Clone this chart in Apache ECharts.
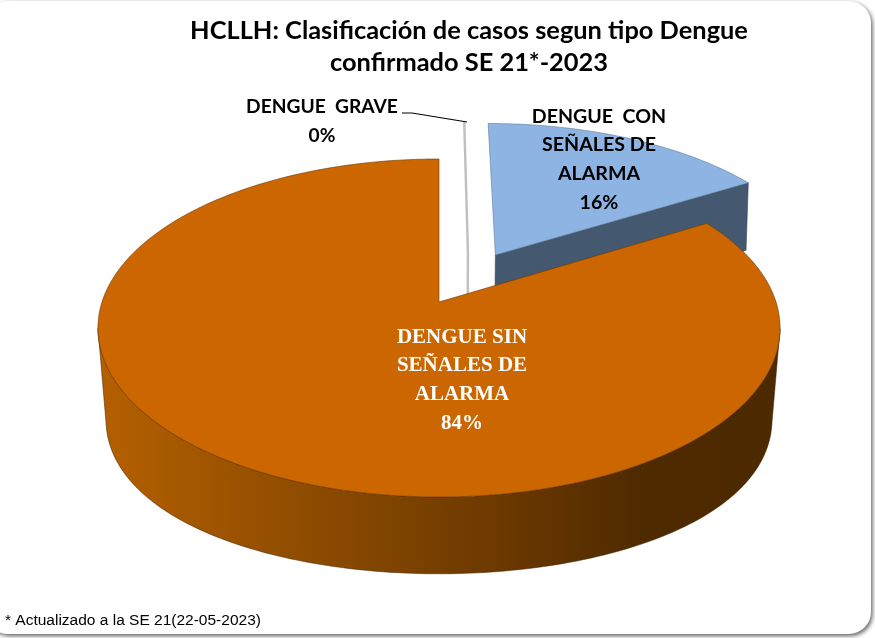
<!DOCTYPE html>
<html><head><meta charset="utf-8">
<style>html,body{margin:0;padding:0;background:#fff}#c{width:875px;height:638px}</style>
<script src="https://cdn.jsdelivr.net/npm/echarts@6/dist/echarts.min.js"></script>
</head><body><div id="c"></div>
<script>
// --- data ---
const titleLines = ['HCLLH: Clasificación de casos segun tipo Dengue', 'confirmado SE 21*-2023'];
const footnote = '* Actualizado a la SE 21(22-05-2023)';
const categories = ['DENGUE GRAVE', 'DENGUE CON SEÑALES DE ALARMA', 'DENGUE SIN SEÑALES DE ALARMA'];
const values = [0, 16.4, 83.6];
const percentLabels = ['0%', '16%', '84%'];

// --- drawing style ---
const topColors = ['#BFBFBF', '#8EB4E3', '#CC6600'];
const explodeU = [0.09, 0.175, 0];
const explodeV = [0.31, 0.298, 0];
const P = {x0: 439, y0: 302, A: 337, B: 165, k: 0.1538, depth: 65, bulge: 28, shrink: 0.021};

function project(u, v) {
  const s = 1 / (1 + P.k * v);
  return [P.x0 + P.A * u * s, P.y0 - P.B * v * s, s, v];
}
function lower(p) {
  const extra = P.bulge * Math.max(0, 1 - p[3] * p[3]);
  return [P.x0 + (p[0] - P.x0) * (1 - P.shrink * (1 - 0.8 * p[3])), p[1] + P.depth * p[2] + extra];
}
function rim(i, deg) {
  const t = deg * Math.PI / 180;
  return project(explodeU[i] + Math.sin(t), explodeV[i] + Math.cos(t));
}
const total = values.reduce((a, b) => a + b, 0);
const spans = [];
values.reduce((acc, v, i) => { spans[i] = [acc, acc + v / total * 360]; return acc + v / total * 360; }, 0);

function renderSlice(params) {
  const i = params.dataIndex;
  const [a0, a1] = spans[i];
  const apex = project(explodeU[i], explodeV[i]);
  const children = [];
  if (a1 - a0 < 0.01) {
    const e = rim(i, a0);
    children.push({type: 'polyline', shape: {points: [e.slice(0, 2), apex.slice(0, 2), lower(apex)]},
      style: {stroke: topColors[i], lineWidth: 2.4, fill: null}});
    return {type: 'group', children};
  }
  const arc = [];
  for (let d = a0; d < a1; d += 1) arc.push(rim(i, d));
  arc.push(rim(i, a1));
  if (a1 - a0 < 180) {
    const e = rim(i, a1);
    children.push({type: 'polygon',
      shape: {points: [apex.slice(0, 2), e.slice(0, 2), lower(e), lower(apex)]},
      style: {fill: '#44586F', stroke: '#39475A', lineWidth: 0.6}});
  } else {
    const front = arc.filter(p => p[3] <= -P.k);
    const pts = front.map(p => p.slice(0, 2)).concat(front.slice().reverse().map(lower));
    children.push({type: 'polygon', shape: {points: pts},
      style: {
        fill: new echarts.graphic.LinearGradient(0, 0, 1, 0, [
          {offset: 0, color: '#B56000'},
          {offset: 0.3, color: '#8F4C00'},
          {offset: 0.6, color: '#6A3800'},
          {offset: 0.8, color: '#4F2A00'},
          {offset: 1, color: '#4D2900'}
        ]),
        stroke: '#3A2000', lineWidth: 0.5
      }});
  }
  children.push({type: 'polygon',
    shape: {points: [apex.slice(0, 2)].concat(arc.map(p => p.slice(0, 2)))},
    style: {fill: topColors[i], stroke: a1 - a0 < 180 ? '#5F7896' : '#6A3800', lineWidth: 0.6}});
  return {type: 'group', children};
}

const calibri = 'Lato, "Open Sans", sans-serif';
function label(lines, x, y, font, size, color, lh) {
  return {type: 'text', z: 20, x, y,
    style: {text: lines.join('\n'), font: 'bold ' + size + 'px ' + font, fill: color,
      textAlign: 'center', textVerticalAlign: 'top', lineHeight: lh}};
}
const splitConAlarma = ['DENGUE  CON', 'SEÑALES DE', 'ALARMA'];
const splitSinAlarma = ['DENGUE SIN', 'SEÑALES DE', 'ALARMA'];
const splitGrave = ['DENGUE  GRAVE'];

const chart = echarts.init(document.getElementById('c'), null, {renderer: 'canvas'});
chart.setOption({
  animation: false,
  backgroundColor: '#ffffff',
  title: {
    text: titleLines.join('\n'), left: 464, top: 10, textAlign: 'center',
    textStyle: {fontFamily: calibri, fontWeight: 'bold', fontSize: 25.4, lineHeight: 32, color: '#000'}
  },
  graphic: [
    {type: 'rect', z: -10, shape: {x: -14, y: 1, width: 885, height: 633, r: 22},
      style: {fill: '#fff', shadowColor: 'rgba(80,80,80,0.9)', shadowBlur: 4, shadowOffsetX: 1.5, shadowOffsetY: 2}},
    {type: 'polyline', z: 19, shape: {points: [[402, 113], [412, 113], [467, 122]]},
      style: {stroke: '#000', lineWidth: 1.2, fill: null}},
    label(splitConAlarma.concat(percentLabels[1]), 599, 102, calibri, 19.6, '#000', 28.7),
    label(splitGrave.concat(percentLabels[0]), 322, 93, calibri, 19.2, '#000', 28.5),
    label(splitSinAlarma.concat(percentLabels[2]), 462, 323, '"Liberation Serif", serif', 21, '#fff', 28.7),
    {type: 'text', z: 20, x: 5, y: 613,
      style: {text: footnote, font: '15.5px "Liberation Sans", sans-serif', fill: '#000'}}
  ],
  series: [{
    type: 'custom', coordinateSystem: 'none', silent: true,
    data: values.map((v, i) => ({name: categories[i], value: v})),
    renderItem: renderSlice
  }]
});
</script></body></html>
